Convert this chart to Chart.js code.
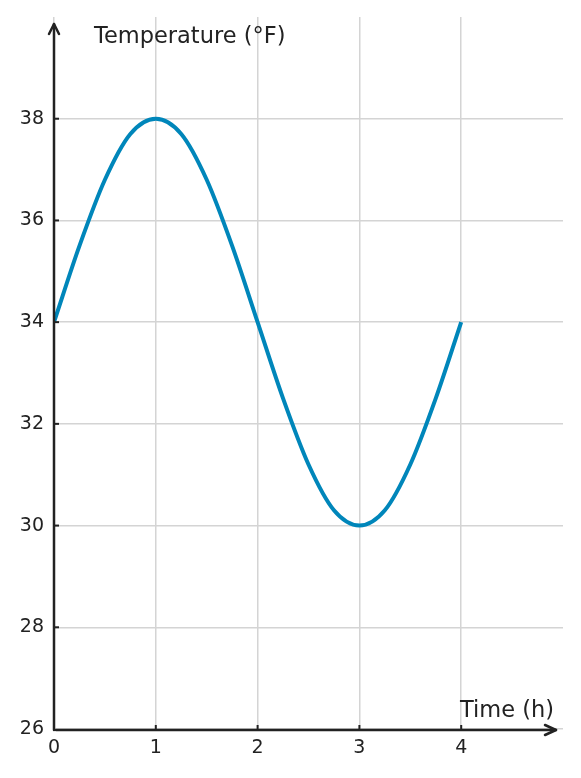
<!DOCTYPE html>
<html>
<head>
<meta charset="utf-8">
<script src="https://cdn.jsdelivr.net/npm/chart.js@4"></script>
<style>
  html, body { margin: 0; padding: 0; background: #fff; }
  #wrap { width: 581px; height: 778px; }
</style>
</head>
<body>
<div id="wrap"><canvas id="chart" width="581" height="778"></canvas></div>
<script>
// DATA
const hours = [0, 0.25, 0.5, 0.75, 1, 1.25, 1.5, 1.75, 2, 2.25, 2.5, 2.75, 3, 3.25, 3.5, 3.75, 4];
const temps = [34, 35.5, 36.8, 37.7, 38, 37.7, 36.8, 35.5, 34, 32.5, 31.2, 30.3, 30, 30.3, 31.2, 32.5, 34];
const xTicks = [0, 1, 2, 3, 4];
const yTicks = [26, 28, 30, 32, 34, 36, 38];

const ink = "#222222";
const font = "'DejaVu Sans', sans-serif";

// arrows, axis lines, little inward ticks and axis titles
const axesPlugin = {
  id: "axes",
  afterDraw(chart) {
    const ctx = chart.ctx;
    const x = chart.scales.x, y = chart.scales.y;
    const x0 = x.getPixelForValue(0), y0 = y.getPixelForValue(26);
    ctx.save();
    ctx.strokeStyle = ink;
    ctx.lineWidth = 2.5;
    ctx.lineCap = "round";
    ctx.lineJoin = "round";
    // y axis
    ctx.beginPath();
    ctx.moveTo(x0, y0 + 1);
    ctx.lineTo(x0, 24);
    ctx.stroke();
    ctx.beginPath();
    ctx.moveTo(x0 - 5, 34);
    ctx.lineTo(x0, 24);
    ctx.lineTo(x0 + 5, 34);
    ctx.stroke();
    // x axis
    ctx.beginPath();
    ctx.moveTo(x0 + 2, y0 + 1);
    ctx.lineTo(556, y0 + 1);
    ctx.stroke();
    ctx.beginPath();
    ctx.moveTo(545, y0 - 4);
    ctx.lineTo(556, y0 + 1);
    ctx.lineTo(545, y0 + 6);
    ctx.stroke();
    // ticks
    ctx.lineWidth = 2;
    ctx.lineCap = "butt";
    xTicks.slice(1).forEach(v => {
      const px = x.getPixelForValue(v);
      ctx.beginPath();
      ctx.moveTo(px, y0 + 1);
      ctx.lineTo(px, y0 - 4);
      ctx.stroke();
    });
    yTicks.slice(1).forEach(v => {
      const py = y.getPixelForValue(v);
      ctx.beginPath();
      ctx.moveTo(x0, py);
      ctx.lineTo(x0 + 5, py);
      ctx.stroke();
    });
    // titles
    ctx.fillStyle = ink;
    ctx.font = "22.5px " + font;
    ctx.textBaseline = "alphabetic";
    ctx.textAlign = "left";
    ctx.fillText("Temperature (°F)", 94, 43);
    ctx.fillText("Time (h)", 460, 717);
    ctx.restore();
  }
};

const config = {
  type: "line",
  data: {
    datasets: [{
      data: hours.map((h, i) => ({ x: h, y: temps[i] })),
      borderColor: "rgb(0, 134, 186)",
      borderWidth: 4,
      pointRadius: 0,
      cubicInterpolationMode: "monotone",
      fill: false
    }]
  },
  options: {
    responsive: false,
    animation: false,
    layout: { padding: { top: 17, right: 18 } },
    scales: {
      x: {
        type: "linear",
        min: 0,
        max: 5,
        afterFit: s => { s.height = 49; s.paddingLeft = 0; s.paddingRight = 0; },
        afterBuildTicks: s => { s.ticks = xTicks.map(v => ({ value: v })); },
        grid: { color: "#d4d4d4", lineWidth: 1.5, drawTicks: false },
        border: { display: false },
        ticks: { color: ink, padding: 8, font: { family: font, size: 19 } }
      },
      y: {
        min: 26,
        max: 40,
        afterFit: s => { s.width = 54; s.paddingTop = 0; s.paddingBottom = 0; },
        afterBuildTicks: s => { s.ticks = yTicks.map(v => ({ value: v })); },
        grid: { color: "#d4d4d4", lineWidth: 1.5, drawTicks: false },
        border: { display: false },
        ticks: { color: ink, padding: 10, font: { family: font, size: 19 } }
      }
    },
    plugins: {
      legend: { display: false },
      tooltip: { enabled: false }
    }
  },
  plugins: [axesPlugin]
};

const chart = new Chart(document.getElementById("chart"), config);
</script>
</body>
</html>
